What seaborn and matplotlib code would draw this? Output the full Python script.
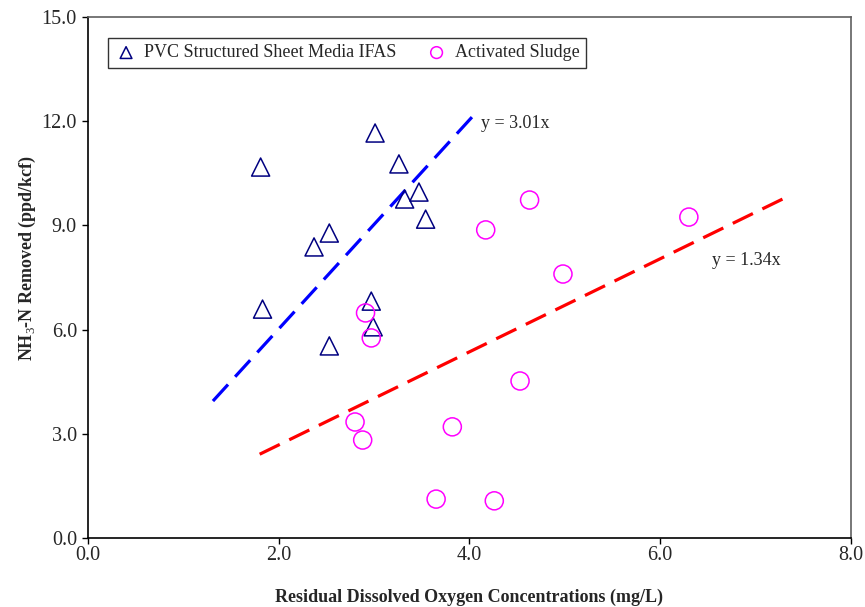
import numpy as np
import pandas as pd
import seaborn as sns
import matplotlib
matplotlib.use("Agg")
import matplotlib.pyplot as plt

# ---- data ----
ifas_do = [1.81, 1.83, 2.37, 2.53, 2.53, 3.01, 2.97, 2.99, 3.26, 3.32, 3.47, 3.54]
ifas_nh3 = [10.68, 6.59, 8.38, 8.78, 5.53, 11.66, 6.82, 6.08, 10.77, 9.76, 9.96, 9.18]

as_do = [2.91, 2.97, 2.80, 2.88, 3.65, 3.82, 4.17, 4.26, 4.53, 4.63, 4.98, 6.30]
as_nh3 = [6.48, 5.76, 3.34, 2.82, 1.12, 3.20, 8.87, 1.07, 4.52, 9.73, 7.60, 9.24]

series_names = ["PVC Structured Sheet Media IFAS", "Activated Sludge"]
trend_slopes = [3.01, 1.34]
trend_x_ranges = [[1.31, 4.04], [1.80, 7.31]]
trend_labels = ["y = 3.01x", "y = 1.34x"]

x_ticks = [0.0, 2.0, 4.0, 6.0, 8.0]
y_ticks = [0.0, 3.0, 6.0, 9.0, 12.0, 15.0]
x_label = "Residual Dissolved Oxygen Concentrations (mg/L)"
y_label = "NH$_3$-N Removed (ppd/kcf)"

# ---- build tables ----
df = pd.DataFrame({
    "do": ifas_do + as_do,
    "nh3": ifas_nh3 + as_nh3,
    "series": [series_names[0]] * len(ifas_do) + [series_names[1]] * len(as_do),
})

sns.set_theme(style="white")
plt.rcParams["font.family"] = ["Liberation Serif", "DejaVu Serif"]
plt.rcParams["mathtext.fontset"] = "custom"
plt.rcParams["mathtext.rm"] = "Liberation Serif"
plt.rcParams["mathtext.bf"] = "Liberation Serif:bold"

fig = plt.figure(figsize=(8.65, 6.07), dpi=100)
ax = fig.add_axes([88 / 865, 69 / 607, (851 - 88) / 865, (538 - 17) / 607])

edge_colors = {series_names[0]: "#000080", series_names[1]: "#FF00FF"}
markers = {series_names[0]: "^", series_names[1]: "o"}

for name in series_names:
    sub = df[df["series"] == name]
    sns.scatterplot(data=sub, x="do", y="nh3", marker=markers[name], s=13 ** 2,
                    facecolors="none", edgecolor=edge_colors[name],
                    linewidth=1.1, ax=ax, label=name, zorder=3)

line_colors = ["#0000FF", "#FF0000"]
for slope, xr, col in zip(trend_slopes, trend_x_ranges, line_colors):
    tdf = pd.DataFrame({"x": xr, "y": [slope * v for v in xr]})
    sns.lineplot(data=tdf, x="x", y="y", color=col, lw=2.3, ax=ax,
                 dashes=False, zorder=2)
    ax.lines[-1].set_dashes((7, 3.3))

ax.text(4.12, 11.93, trend_labels[0], fontsize=13, va="center", ha="left")
ax.text(6.54, 8.0, trend_labels[1], fontsize=13, va="center", ha="left")

ax.set_xlim(0, 8)
ax.set_ylim(0, 15)
ax.set_xticks(x_ticks)
ax.set_yticks(y_ticks)
ax.set_xticklabels([f"{v:.1f}" for v in x_ticks], fontsize=14.5)
ax.set_yticklabels([f"{v:.1f}" for v in y_ticks], fontsize=14.5)
ax.tick_params(axis="both", direction="out", length=4, width=1, color="black",
               bottom=True, left=True)
ax.tick_params(axis="x", pad=1.5)
ax.tick_params(axis="y", pad=4)

ax.set_xlabel(x_label, fontsize=13, fontweight="bold", labelpad=17)
ax.set_ylabel(y_label, fontsize=13, fontweight="bold")
ax.yaxis.set_label_coords((38 - 88) / 763, (538 - 258) / 521)

for side in ["left", "bottom"]:
    ax.spines[side].set_color("black")
    ax.spines[side].set_linewidth(1.2)
for side in ["top", "right"]:
    ax.spines[side].set_color("#606060")
    ax.spines[side].set_linewidth(1.2)

handles, labels = ax.get_legend_handles_labels()
leg = ax.legend(handles[:2], labels[:2], ncol=2, loc="upper left",
                bbox_to_anchor=(20 / 763, 1 - 21 / 521), borderaxespad=0,
                fontsize=13, frameon=True, fancybox=False, edgecolor="black",
                markerscale=0.65, handletextpad=0.35, columnspacing=1.57,
                borderpad=0.35, handlelength=1.3)
leg.get_frame().set_linewidth(1.0)

fig.savefig("out.png", dpi=100, facecolor="white")
